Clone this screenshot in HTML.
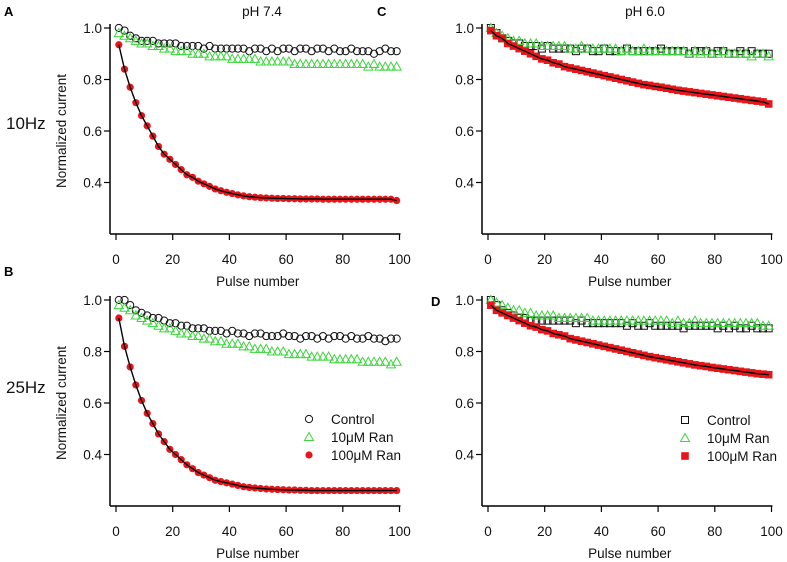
<!DOCTYPE html>
<html><head><meta charset="utf-8"><style>
body{margin:0;background:#fff;}
svg{display:block;font-family:"Liberation Sans",Arial,sans-serif;}
</style></head><body>
<svg id="c" width="787" height="562" viewBox="0 0 787 562"></svg>
<script>
const pulses=[1,3,5,7,9,11,13,15,17,19,21,23,25,27,29,31,33,35,37,39,41,43,45,47,49,51,53,55,57,59,61,63,65,67,69,71,73,75,77,79,81,83,85,87,89,91,93,95,97,99];
const yTicks=[1.0,0.8,0.6,0.4];
const xTicks=[0,20,40,60,80,100];
const seriesNames=["Control","10\u03bcM Ran","100\u03bcM Ran"];
const aCtrl=[1.0,0.99,0.97,0.96,0.95,0.95,0.95,0.94,0.94,0.94,0.94,0.93,0.93,0.93,0.93,0.92,0.93,0.92,0.92,0.92,0.92,0.92,0.92,0.91,0.92,0.92,0.91,0.92,0.91,0.92,0.92,0.91,0.92,0.92,0.91,0.92,0.92,0.91,0.92,0.91,0.91,0.92,0.91,0.91,0.91,0.90,0.91,0.92,0.91,0.91];
const a10=[0.98,0.97,0.96,0.95,0.94,0.94,0.93,0.93,0.92,0.92,0.91,0.91,0.91,0.90,0.90,0.90,0.89,0.89,0.89,0.89,0.88,0.88,0.88,0.88,0.88,0.87,0.87,0.87,0.87,0.87,0.87,0.86,0.86,0.86,0.86,0.86,0.86,0.86,0.86,0.86,0.86,0.86,0.86,0.86,0.85,0.86,0.85,0.85,0.85,0.85];
const a100=[0.935,0.84,0.77,0.71,0.66,0.62,0.58,0.54,0.51,0.49,0.47,0.45,0.43,0.42,0.405,0.395,0.385,0.375,0.368,0.362,0.357,0.352,0.348,0.345,0.343,0.341,0.340,0.339,0.338,0.338,0.337,0.337,0.336,0.336,0.336,0.336,0.335,0.335,0.335,0.335,0.335,0.335,0.335,0.335,0.335,0.335,0.335,0.335,0.335,0.33];
const bCtrl=[1.0,1.0,0.98,0.96,0.95,0.94,0.93,0.93,0.92,0.91,0.91,0.90,0.90,0.89,0.89,0.89,0.88,0.88,0.88,0.87,0.88,0.87,0.87,0.86,0.87,0.87,0.86,0.86,0.86,0.87,0.86,0.86,0.85,0.86,0.86,0.85,0.86,0.85,0.86,0.86,0.85,0.86,0.85,0.85,0.86,0.85,0.85,0.84,0.85,0.85];
const b10=[0.98,0.97,0.96,0.94,0.93,0.92,0.91,0.90,0.89,0.89,0.88,0.87,0.87,0.86,0.86,0.85,0.85,0.84,0.84,0.83,0.83,0.83,0.82,0.82,0.81,0.81,0.81,0.80,0.80,0.80,0.79,0.79,0.79,0.79,0.78,0.78,0.78,0.78,0.77,0.77,0.77,0.77,0.77,0.76,0.76,0.76,0.76,0.76,0.75,0.76];
const b100=[0.93,0.82,0.74,0.67,0.61,0.56,0.52,0.48,0.45,0.42,0.40,0.38,0.36,0.345,0.33,0.32,0.31,0.30,0.295,0.29,0.285,0.28,0.275,0.272,0.27,0.268,0.266,0.265,0.264,0.263,0.262,0.262,0.261,0.261,0.26,0.26,0.26,0.26,0.26,0.26,0.26,0.26,0.26,0.26,0.26,0.26,0.26,0.26,0.26,0.26];
const cCtrl=[1.0,0.98,0.96,0.95,0.94,0.94,0.93,0.93,0.93,0.92,0.93,0.92,0.92,0.92,0.92,0.91,0.92,0.92,0.91,0.91,0.92,0.91,0.91,0.91,0.92,0.91,0.91,0.91,0.91,0.91,0.92,0.91,0.91,0.91,0.91,0.90,0.91,0.91,0.91,0.90,0.91,0.91,0.90,0.90,0.91,0.90,0.91,0.90,0.90,0.90];
const c10=[1.0,0.98,0.97,0.96,0.95,0.95,0.94,0.94,0.94,0.93,0.93,0.93,0.93,0.93,0.92,0.92,0.93,0.92,0.92,0.92,0.92,0.92,0.92,0.91,0.92,0.91,0.91,0.92,0.91,0.91,0.91,0.91,0.91,0.91,0.91,0.90,0.91,0.90,0.91,0.90,0.90,0.91,0.90,0.90,0.90,0.90,0.89,0.90,0.90,0.89];
const c100=[0.99,0.97,0.96,0.94,0.93,0.92,0.91,0.90,0.89,0.88,0.875,0.865,0.86,0.85,0.845,0.84,0.835,0.83,0.825,0.82,0.815,0.81,0.805,0.80,0.795,0.79,0.785,0.78,0.777,0.773,0.77,0.766,0.762,0.758,0.755,0.752,0.749,0.746,0.743,0.74,0.737,0.734,0.731,0.728,0.725,0.722,0.719,0.716,0.713,0.705];
const dCtrl=[1.0,0.98,0.96,0.95,0.94,0.93,0.93,0.92,0.92,0.92,0.92,0.92,0.92,0.92,0.92,0.91,0.92,0.91,0.91,0.91,0.91,0.91,0.91,0.91,0.90,0.91,0.90,0.90,0.91,0.90,0.90,0.90,0.90,0.90,0.89,0.90,0.90,0.90,0.90,0.90,0.89,0.90,0.89,0.90,0.89,0.89,0.90,0.89,0.89,0.89];
const d10=[1.0,0.99,0.98,0.97,0.96,0.96,0.95,0.95,0.94,0.94,0.94,0.94,0.93,0.93,0.93,0.93,0.93,0.93,0.92,0.92,0.92,0.92,0.92,0.92,0.92,0.92,0.92,0.92,0.92,0.92,0.92,0.92,0.91,0.92,0.91,0.91,0.92,0.91,0.91,0.91,0.91,0.91,0.91,0.91,0.91,0.91,0.91,0.91,0.90,0.90];
const d100=[0.98,0.96,0.95,0.94,0.93,0.92,0.91,0.90,0.895,0.885,0.88,0.87,0.865,0.86,0.85,0.845,0.84,0.835,0.83,0.825,0.82,0.815,0.81,0.805,0.80,0.795,0.79,0.785,0.78,0.776,0.772,0.768,0.764,0.76,0.756,0.752,0.748,0.745,0.742,0.738,0.735,0.732,0.729,0.726,0.723,0.72,0.717,0.714,0.712,0.71];

const svg=document.getElementById('c');
const NS='http://www.w3.org/2000/svg';
function mk(tag,attrs,parent){const e=document.createElementNS(NS,tag);for(const k in attrs)e.setAttribute(k,attrs[k]);(parent||svg).appendChild(e);return e;}
function txt(s,x,y,attrs,parent){const t=mk('text',Object.assign({x:x,y:y},attrs),parent);t.textContent=s;return t;}

function marker(kind,cx,cy,g){
  let e;
  if(kind==='circle'){e=mk('circle',{cx:cx,cy:cy,r:3.6,fill:'none',stroke:'#111','stroke-width':1},g);}
  else if(kind==='dot'){e=mk('circle',{cx:cx,cy:cy,r:3.6,fill:'#e8161b',stroke:'none'},g);}
  else if(kind==='tri'){e=mk('polygon',{points:`${cx},${cy-4.5} ${cx-4.5},${cy+3.5} ${cx+4.5},${cy+3.5}`,fill:'none',stroke:'#3ed63e','stroke-width':1},g);}
  else if(kind==='sq'){e=mk('rect',{x:cx-3.5,y:cy-3.5,width:7,height:7,fill:'none',stroke:'#111','stroke-width':1},g);}
  else {e=mk('rect',{x:cx-3.8,y:cy-3.8,width:7.6,height:7.6,fill:'#e8161b',stroke:'none'},g);}
  
  
}

function panel(id,ax,top,ctrl,s10,s100,ctrlKind,redKind,showYLabel){
  const g=mk('g',{});
  
  
  const x0=ax+6, xs=2.835, ys=257.5;
  const X=p=>x0+p*xs, Y=v=>top+(1-v)*ys;
  const bottom=Y(0.2);
  const ya=mk('line',{x1:ax,y1:top-4,x2:ax,y2:bottom,stroke:'#000','stroke-width':1.5},g);
  
  const xa=mk('line',{x1:ax,y1:bottom,x2:X(100)+1,y2:bottom,stroke:'#000','stroke-width':1.5},g);
  
  yTicks.forEach(v=>{
    mk('line',{x1:ax-6,y1:Y(v),x2:ax,y2:Y(v),stroke:'#000','stroke-width':1.2},g);
    const t=txt(v.toFixed(1),ax-8,Y(v)+5,{'font-size':13.5,'text-anchor':'end',fill:'#111'},g);
    
  });
  xTicks.forEach(v=>{
    mk('line',{x1:X(v),y1:bottom,x2:X(v),y2:bottom+6,stroke:'#000','stroke-width':1.2},g);
    const t=txt(String(v),X(v),bottom+30,{'font-size':13.5,'text-anchor':'middle',fill:'#111'},g);
    
  });
  const xt=txt('Pulse number',X(50),bottom+52,{'font-size':13.5,'text-anchor':'middle',fill:'#111'},g);
  
  if(showYLabel){
    const yl=txt('Normalized current',0,0,{'font-size':13.5,'text-anchor':'middle',fill:'#111',transform:`translate(${ax-44},${Y(0.6)}) rotate(-90)`},g);
    
  }
  const gc=mk('g',{},g);
  const g10=mk('g',{},g);
  const g100=mk('g',{},g);
  pulses.forEach((p,i)=>marker(ctrlKind,X(p),Y(ctrl[i]),gc));
  pulses.forEach((p,i)=>marker('tri',X(p),Y(s10[i]),g10));
  pulses.forEach((p,i)=>marker(redKind,X(p),Y(s100[i]),g100));
  const fit=mk('polyline',{points:pulses.map((p,i)=>X(p)+','+Y(s100[i])).join(' '),fill:'none',stroke:'#000','stroke-width':1.4},g);
  
  return {X,Y};
}

panel('a',110,28,aCtrl,a10,a100,'circle','dot',true);
panel('b',110,300,bCtrl,b10,b100,'circle','dot',true);
panel('c',482,28,cCtrl,c10,c100,'sq','fsq',false);
panel('d',482,300,dCtrl,d10,d100,'sq','fsq',false);

function legend(x,y,kinds,name){
  const g=mk('g',{});
  
  
  kinds.forEach((k,i)=>{
    const gy=y+i*18;
    marker(k,x,gy,g);
    const t=txt(seriesNames[i],x+22,gy+5,{'font-size':13.5,fill:'#111'},g);
    
  });
}
legend(309,419,['circle','tri','dot'],'legend-b');
legend(685,420,['sq','tri','fsq'],'legend-d');

[['A',4,16],['B',4,276],['C',377,16],['D',431,306]].forEach(l=>{
  const t=txt(l[0],l[1],l[2],{'font-size':13,'font-weight':'bold',fill:'#000'});
  
});
let t=txt('pH 7.4',262,16,{'font-size':13.5,'text-anchor':'middle',fill:'#111'});

t=txt('pH 6.0',645,16,{'font-size':13.5,'text-anchor':'middle',fill:'#111'});

t=txt('10Hz',6,129,{'font-size':17,fill:'#111'});

t=txt('25Hz',6,393,{'font-size':17,fill:'#111'});

</script>
</body></html>
